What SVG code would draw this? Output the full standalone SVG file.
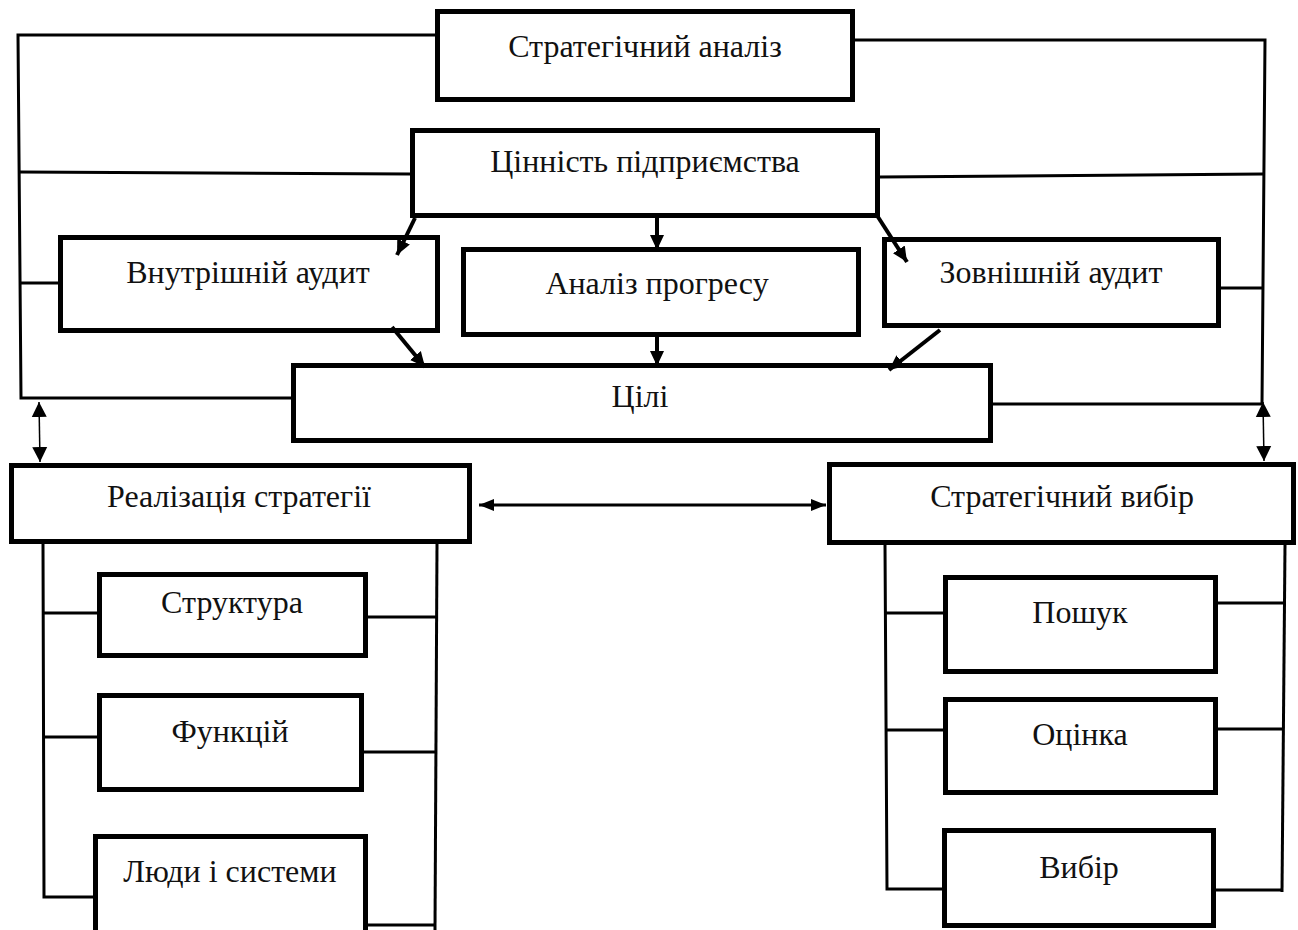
<svg xmlns="http://www.w3.org/2000/svg" width="1298" height="930" viewBox="0 0 1298 930">
<style>
.box{fill:#fff;stroke:#000;stroke-width:5}
.ln{fill:none;stroke:#000;stroke-width:3}
.thin{fill:none;stroke:#000;stroke-width:1.5}
.ar{fill:none;stroke:#000;stroke-width:4}
.t{font-family:'Liberation Serif','Times New Roman',serif;font-size:32px;fill:#111;text-anchor:middle}
</style>
<defs>
<marker id="ah" markerUnits="userSpaceOnUse" markerWidth="16" markerHeight="16" refX="15" refY="8" orient="auto-start-reverse" viewBox="0 0 16 16"><path d="M0,1 L15,8 L0,15 z" fill="#000"/></marker>
<marker id="ahs" markerUnits="userSpaceOnUse" markerWidth="16" markerHeight="16" refX="15" refY="8" orient="auto-start-reverse" viewBox="0 0 16 16"><path d="M0,0.5 L15,8 L0,15.5 z" fill="#000"/></marker>
<marker id="ahh" markerUnits="userSpaceOnUse" markerWidth="16" markerHeight="14" refX="15" refY="7" orient="auto-start-reverse" viewBox="0 0 16 14"><path d="M0,1 L15,7 L0,13 z" fill="#000"/></marker>
</defs>
<g id="n1"><rect class="box" x="437.5" y="11.5" width="415" height="88"/><text class="t" x="645" y="57">Стратегічний аналіз</text></g>
<g id="n2"><rect class="box" x="412.5" y="130.5" width="465" height="85"/><text class="t" x="645" y="172">Цінність підприємства</text></g>
<g id="n3"><rect class="box" x="60.5" y="237.5" width="377" height="93"/><text class="t" x="248" y="283">Внутрішній аудит</text></g>
<g id="n4"><rect class="box" x="463.5" y="249.5" width="395" height="85"/><text class="t" x="657" y="294">Аналіз прогресу</text></g>
<g id="n5"><rect class="box" x="884.5" y="239.5" width="334" height="86"/><text class="t" x="1051" y="283">Зовнішній аудит</text></g>
<g id="n6"><rect class="box" x="293.5" y="365.5" width="697" height="75"/><text class="t" x="640" y="407">Цілі</text></g>
<g id="n7"><rect class="box" x="11.5" y="465.5" width="458" height="76"/><text class="t" x="239" y="507">Реалізація стратегії</text></g>
<g id="n8"><rect class="box" x="829.5" y="464.5" width="464" height="78"/><text class="t" x="1062" y="507">Стратегічний вибір</text></g>
<g id="n9"><rect class="box" x="99.5" y="574.5" width="266" height="81"/><text class="t" x="232" y="613">Структура</text></g>
<g id="n10"><rect class="box" x="99.5" y="695.5" width="262" height="94"/><text class="t" x="230" y="742">Функцій</text></g>
<g id="n11"><rect class="box" x="95.5" y="836.5" width="270" height="100"/><text class="t" x="230" y="882">Люди і системи</text></g>
<g id="n12"><rect class="box" x="945.5" y="577.5" width="270" height="94"/><text class="t" x="1080" y="623">Пошук</text></g>
<g id="n13"><rect class="box" x="945.5" y="699.5" width="270" height="93"/><text class="t" x="1080" y="745">Оцінка</text></g>
<g id="n14"><rect class="box" x="944.5" y="830.5" width="269" height="95"/><text class="t" x="1079" y="878">Вибір</text></g>
<g id="connectors">
<polyline class="ln" points="436,35 18,35 21,398 291,398"/>
<line class="ln" x1="20" y1="172" x2="410" y2="174"/>
<line class="ln" x1="21" y1="283" x2="58" y2="283"/>
<polyline class="ln" points="854,40 1265,40 1262,404 992,404"/>
<line class="ln" x1="880" y1="177" x2="1263" y2="174"/>
<line class="ln" x1="1221" y1="288" x2="1263" y2="288"/>
<line class="ar" x1="415" y1="218" x2="397" y2="255" marker-end="url(#ah)"/>
<line class="ar" x1="657" y1="218" x2="657" y2="250" marker-end="url(#ah)"/>
<line class="ar" x1="878" y1="217" x2="907" y2="262" marker-end="url(#ah)"/>
<line class="ar" x1="392" y1="327" x2="425" y2="367" marker-end="url(#ah)"/>
<line class="ar" x1="657" y1="337" x2="657" y2="366" marker-end="url(#ah)"/>
<line class="ar" x1="940" y1="330" x2="889" y2="370" marker-end="url(#ah)"/>
<line class="thin" x1="39" y1="402" x2="40" y2="462" marker-start="url(#ahs)" marker-end="url(#ahs)"/>
<line class="thin" x1="1263" y1="402" x2="1264" y2="461" marker-start="url(#ahs)" marker-end="url(#ahs)"/>
<line class="ln" x1="479" y1="505" x2="826" y2="505" marker-start="url(#ahh)" marker-end="url(#ahh)"/>
<polyline class="ln" points="43,544 44,897 93,897"/>
<line class="ln" x1="437" y1="544" x2="435" y2="930"/>
<line class="ln" x1="44" y1="613" x2="97" y2="613"/>
<line class="ln" x1="368" y1="617" x2="436" y2="617"/>
<line class="ln" x1="44" y1="737" x2="97" y2="737"/>
<line class="ln" x1="364" y1="752" x2="435" y2="752"/>
<line class="ln" x1="368" y1="925" x2="435" y2="925"/>
<polyline class="ln" points="885,545 887,889 942,889"/>
<line class="ln" x1="1285" y1="545" x2="1282" y2="892"/>
<line class="ln" x1="885" y1="613" x2="943" y2="613"/>
<line class="ln" x1="1218" y1="603" x2="1284" y2="603"/>
<line class="ln" x1="886" y1="730" x2="943" y2="730"/>
<line class="ln" x1="1218" y1="729" x2="1283" y2="729"/>
<line class="ln" x1="1216" y1="890" x2="1282" y2="890"/>
</g>
</svg>
